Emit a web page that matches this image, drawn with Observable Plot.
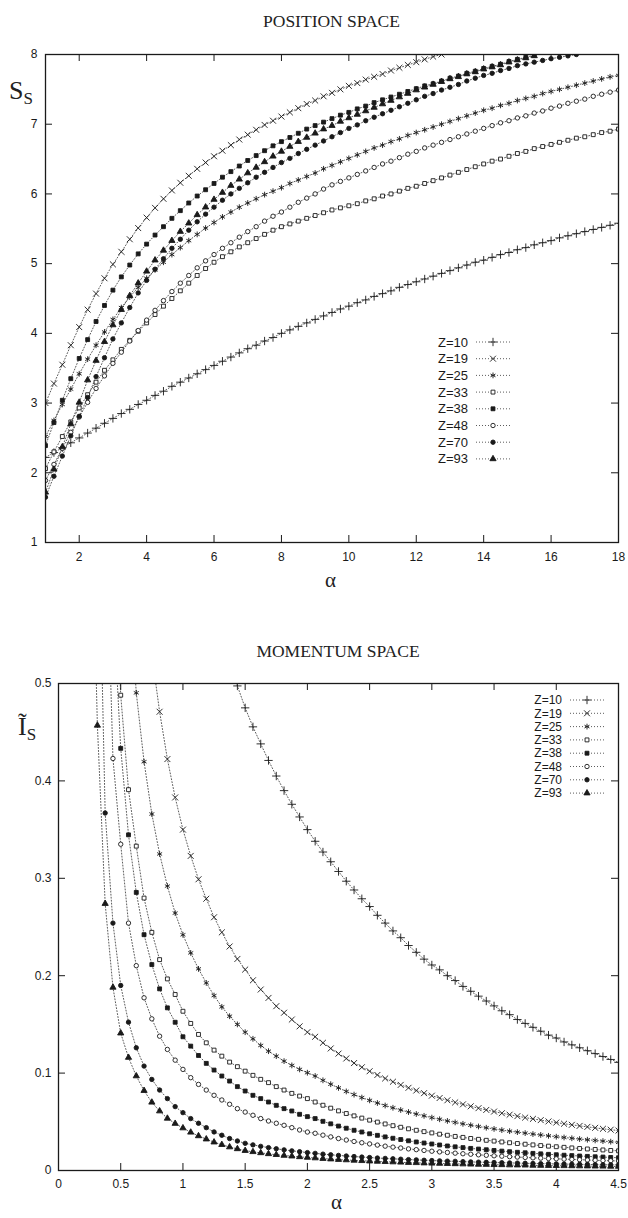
<!DOCTYPE html>
<html>
<head>
<meta charset="utf-8">
<script src="https://cdn.jsdelivr.net/npm/d3@7"></script>
<script src="https://cdn.jsdelivr.net/npm/@observablehq/plot@0.6"></script>
<style>
  html, body { margin: 0; padding: 0; background: #fff; }
  #root { position: relative; width: 628px; height: 1218px; background: #fff; overflow: hidden; }
  .abs { position: absolute; }
  .title { font-family: "Liberation Serif", "DejaVu Serif", serif; font-size: 17.5px; color: #222; text-align: center; }
  .greek { font-family: "Liberation Serif", "DejaVu Serif", serif; font-size: 21px; color: #222; }
  .ylab { font-family: "Liberation Serif", "DejaVu Serif", serif; font-size: 26px; color: #222; line-height: 1; white-space: nowrap; }
  .ylab sub { font-size: 17px; vertical-align: -5px; }
</style>
</head>
<body>
<div id="root">
  <div id="plotTop" class="abs" style="left:0;top:0"></div>
  <div id="plotBot" class="abs" style="left:0;top:600px"></div>
  <div class="abs title" style="left:44px;width:575px;top:11px">POSITION SPACE</div>
  <div class="abs title" style="left:58px;width:560px;top:641px">MOMENTUM SPACE</div>
  <div class="abs greek" style="left:325px;top:568px">α</div>
  <div class="abs greek" style="left:331px;top:1190px">α</div>
  <div class="abs ylab" style="left:9px;top:78px">S<sub>S</sub></div>
  <div class="abs ylab" style="left:18px;top:714px">Ĩ<sub>S</sub></div>
</div>
<script>
// ---------------- DATA: POSITION SPACE (S_S vs alpha) ----------------
const alphaPos = [1,1.25,1.5,1.75,2,2.25,2.5,2.75,3,3.25,3.5,3.75,4,4.25,4.5,4.75,5,5.25,5.5,5.75,6,6.25,6.5,6.75,7,7.25,7.5,7.75,8,8.25,8.5,8.75,9,9.25,9.5,9.75,10,10.25,10.5,10.75,11,11.25,11.5,11.75,12,12.25,12.5,12.75,13,13.25,13.5,13.75,14,14.25,14.5,14.75,15,15.25,15.5,15.75,16,16.25,16.5,16.75,17,17.25,17.5,17.75,18];

const posZ10 = [2.22,2.29,2.36,2.43,2.50,2.57,2.64,2.71,2.78,2.85,2.91,2.98,3.04,3.11,3.17,3.24,3.30,3.36,3.42,3.48,3.54,3.60,3.66,3.72,3.78,3.83,3.89,3.94,4.00,4.05,4.10,4.15,4.20,4.25,4.30,4.35,4.39,4.44,4.48,4.53,4.57,4.61,4.66,4.70,4.74,4.78,4.82,4.86,4.90,4.94,4.98,5.02,5.05,5.09,5.13,5.16,5.20,5.23,5.27,5.30,5.33,5.37,5.40,5.43,5.46,5.49,5.52,5.55,5.58];
const posZ19 = [3.00,3.28,3.55,3.83,4.09,4.34,4.57,4.79,4.99,5.17,5.35,5.51,5.66,5.80,5.93,6.05,6.16,6.26,6.36,6.45,6.54,6.62,6.70,6.78,6.85,6.92,6.99,7.05,7.11,7.17,7.23,7.29,7.34,7.40,7.45,7.50,7.55,7.59,7.64,7.68,7.72,7.77,7.81,7.85,7.89,7.93,7.97,8.00];
const posZ25 = [2.52,2.75,2.98,3.20,3.42,3.63,3.83,4.02,4.20,4.37,4.52,4.66,4.79,4.91,5.02,5.13,5.23,5.33,5.42,5.51,5.59,5.67,5.74,5.81,5.87,5.93,5.99,6.04,6.09,6.15,6.20,6.25,6.30,6.36,6.41,6.46,6.51,6.56,6.61,6.66,6.70,6.75,6.79,6.84,6.88,6.92,6.96,7.00,7.04,7.08,7.12,7.16,7.20,7.23,7.27,7.30,7.34,7.37,7.40,7.44,7.47,7.50,7.53,7.56,7.59,7.62,7.65,7.68,7.70];
const posZ33 = [2.06,2.30,2.52,2.73,2.93,3.12,3.30,3.47,3.62,3.77,3.90,4.03,4.15,4.27,4.39,4.50,4.61,4.72,4.83,4.93,5.02,5.10,5.17,5.24,5.30,5.36,5.42,5.48,5.53,5.57,5.61,5.65,5.69,5.73,5.77,5.80,5.83,5.86,5.90,5.93,5.97,6.00,6.04,6.08,6.11,6.15,6.19,6.23,6.27,6.31,6.35,6.39,6.43,6.47,6.50,6.54,6.58,6.61,6.65,6.68,6.71,6.74,6.77,6.80,6.82,6.85,6.88,6.90,6.93];
const posZ38 = [2.39,2.72,3.04,3.35,3.64,3.91,4.17,4.40,4.62,4.81,4.98,5.14,5.28,5.41,5.53,5.65,5.76,5.87,5.97,6.06,6.15,6.24,6.32,6.40,6.48,6.55,6.62,6.69,6.75,6.81,6.87,6.93,6.98,7.03,7.08,7.13,7.17,7.22,7.26,7.31,7.35,7.39,7.43,7.47,7.51,7.55,7.58,7.62,7.66,7.69,7.73,7.76,7.80,7.83,7.86,7.90,7.93,7.96,7.99];
const posZ48 = [1.89,2.12,2.35,2.58,2.80,3.01,3.21,3.39,3.57,3.73,3.89,4.04,4.19,4.33,4.47,4.60,4.72,4.83,4.94,5.04,5.13,5.22,5.30,5.38,5.46,5.53,5.61,5.68,5.74,5.81,5.88,5.94,6.00,6.07,6.13,6.18,6.23,6.28,6.33,6.38,6.43,6.47,6.52,6.57,6.61,6.66,6.70,6.74,6.78,6.82,6.86,6.90,6.94,6.98,7.02,7.05,7.09,7.12,7.16,7.19,7.23,7.26,7.30,7.33,7.36,7.40,7.43,7.46,7.49];
const posZ70 = [1.65,1.95,2.24,2.53,2.81,3.08,3.38,3.65,3.92,4.15,4.37,4.58,4.76,4.92,5.07,5.22,5.35,5.48,5.60,5.71,5.81,5.91,6.00,6.08,6.16,6.24,6.31,6.38,6.45,6.51,6.58,6.64,6.70,6.76,6.82,6.88,6.94,6.99,7.05,7.10,7.15,7.20,7.25,7.30,7.35,7.40,7.44,7.49,7.53,7.57,7.62,7.66,7.70,7.73,7.77,7.80,7.84,7.865,7.89,7.915,7.94,7.96,7.98,8.00];
const posZ93 = [1.72,2.05,2.37,2.70,3.01,3.33,3.61,3.88,4.12,4.34,4.54,4.72,4.89,5.05,5.19,5.33,5.46,5.58,5.70,5.81,5.92,6.02,6.12,6.21,6.30,6.38,6.46,6.54,6.61,6.68,6.75,6.81,6.87,6.93,6.98,7.04,7.09,7.14,7.19,7.24,7.29,7.34,7.39,7.44,7.49,7.53,7.57,7.61,7.65,7.68,7.72,7.75,7.79,7.82,7.85,7.89,7.92,7.95,7.98];

// ---------------- DATA: MOMENTUM SPACE (I_S vs alpha) ----------------
const alphaMom = [0.25,0.3125,0.375,0.4375,0.5,0.5625,0.625,0.6875,0.75,0.8125,0.875,0.9375,1,1.0625,1.125,1.1875,1.25,1.3125,1.375,1.4375,1.5,1.5625,1.625,1.6875,1.75,1.8125,1.875,1.9375,2,2.0625,2.125,2.1875,2.25,2.3125,2.375,2.4375,2.5,2.5625,2.625,2.6875,2.75,2.8125,2.875,2.9375,3,3.0625,3.125,3.1875,3.25,3.3125,3.375,3.4375,3.5,3.5625,3.625,3.6875,3.75,3.8125,3.875,3.9375,4,4.0625,4.125,4.1875,4.25,4.3125,4.375,4.4375,4.5];

const momZ10 = [null,null,null,null,null,null,null,null,null,null,null,null,null,null,null,null,null,null,0.522,0.4975,0.475,0.4555,0.438,0.421,0.405,0.390,0.376,0.363,0.350,0.338,0.327,0.317,0.307,0.297,0.288,0.279,0.271,0.262,0.254,0.246,0.239,0.231,0.224,0.217,0.211,0.206,0.200,0.195,0.189,0.184,0.179,0.174,0.169,0.164,0.160,0.155,0.151,0.147,0.143,0.139,0.136,0.132,0.129,0.126,0.123,0.120,0.117,0.114,0.111];
const momZ19 = [null,null,null,null,null,null,null,null,0.53,0.471,0.4224,0.383,0.350,0.323,0.299,0.279,0.260,0.2445,0.230,0.2172,0.2063,0.1953,0.1858,0.1772,0.1687,0.162,0.155,0.148,0.142,0.1373,0.1311,0.1253,0.120,0.115,0.1103,0.106,0.1019,0.0981,0.0945,0.0911,0.0879,0.0849,0.0821,0.0794,0.0768,0.0744,0.0721,0.0699,0.0679,0.0659,0.064,0.0622,0.0605,0.0588,0.0573,0.0558,0.0543,0.053,0.0517,0.0504,0.0492,0.048,0.0469,0.0458,0.0448,0.0438,0.0428,0.0419,0.041];
const momZ25 = [null,null,null,null,null,0.61,0.4904,0.4197,0.366,0.325,0.292,0.2643,0.242,0.2234,0.207,0.1926,0.1796,0.168,0.1584,0.150,0.142,0.1352,0.1284,0.1225,0.1174,0.1123,0.1079,0.1038,0.1004,0.097,0.0926,0.0886,0.0848,0.0812,0.0779,0.0749,0.072,0.0693,0.0667,0.0644,0.0621,0.060,0.058,0.0561,0.0543,0.0526,0.0509,0.0494,0.0479,0.0465,0.0452,0.0439,0.0427,0.0415,0.0404,0.0394,0.0384,0.0374,0.0365,0.0356,0.0347,0.0339,0.0331,0.0323,0.0316,0.0309,0.0302,0.0296,0.0289];
const momZ33 = [null,null,null,0.68,0.488,0.391,0.333,0.2797,0.2445,0.2165,0.1967,0.1807,0.1635,0.151,0.1397,0.1311,0.1236,0.1174,0.1113,0.1066,0.102,0.0977,0.0936,0.0902,0.0861,0.0826,0.0792,0.0764,0.0738,0.0703,0.067,0.064,0.0612,0.0585,0.0561,0.0538,0.0517,0.0497,0.0478,0.046,0.0444,0.0428,0.0413,0.0399,0.0386,0.0373,0.0362,0.035,0.034,0.0329,0.032,0.031,0.0302,0.0293,0.0285,0.0277,0.027,0.0263,0.0256,0.025,0.0244,0.0238,0.0232,0.0226,0.0221,0.0216,0.0211,0.0206,0.0202];
const momZ38 = [null,null,null,0.587,0.4334,0.3446,0.2855,0.2421,0.2114,0.1865,0.167,0.1522,0.1373,0.1277,0.1181,0.110,0.1031,0.097,0.0918,0.0861,0.0816,0.0772,0.0738,0.0703,0.0669,0.0635,0.0611,0.0577,0.0553,0.0533,0.0505,0.0479,0.0456,0.0434,0.0413,0.0395,0.0377,0.0361,0.0345,0.0331,0.0318,0.0305,0.0293,0.0282,0.0272,0.0262,0.0252,0.0243,0.0235,0.0227,0.022,0.0213,0.0206,0.0199,0.0193,0.0187,0.0182,0.0176,0.0171,0.0166,0.0162,0.0157,0.0153,0.0149,0.0145,0.0141,0.0138,0.0134,0.0131];
const momZ48 = [null,null,0.698,0.423,0.335,0.254,0.2103,0.1773,0.1557,0.1379,0.1243,0.1133,0.1038,0.0953,0.0884,0.0826,0.0772,0.0724,0.068,0.0635,0.060,0.0567,0.0533,0.0508,0.0485,0.0464,0.044,0.0416,0.0395,0.0382,0.0363,0.0345,0.0328,0.0313,0.0298,0.0285,0.0273,0.0261,0.025,0.024,0.0231,0.0222,0.0214,0.0206,0.0198,0.0191,0.0185,0.0178,0.0172,0.0167,0.0161,0.0156,0.0151,0.0147,0.0142,0.0138,0.0134,0.013,0.0127,0.0123,0.012,0.0117,0.0114,0.0111,0.0108,0.0105,0.0102,0.01,0.0098];
const momZ70 = [null,0.73,0.367,0.254,0.19,0.1523,0.126,0.1072,0.0935,0.0826,0.0738,0.0656,0.0594,0.0533,0.0485,0.044,0.0396,0.0362,0.0328,0.0303,0.0279,0.0263,0.0248,0.0235,0.0223,0.0212,0.0202,0.0193,0.0184,0.0176,0.0168,0.0161,0.0155,0.0149,0.0143,0.0138,0.0133,0.0128,0.0124,0.0120,0.0116,0.0112,0.0109,0.0105,0.0102,0.0099,0.0096,0.0094,0.0091,0.0088,0.0086,0.0084,0.0082,0.0080,0.0078,0.0076,0.0074,0.0072,0.0070,0.0069,0.0067,0.0066,0.0064,0.0063,0.0062,0.0060,0.0059,0.0058,0.0057];
const momZ93 = [0.773,0.457,0.274,0.188,0.141,0.116,0.097,0.082,0.070,0.061,0.0535,0.0482,0.0436,0.0392,0.0355,0.0322,0.0291,0.0265,0.0241,0.0222,0.0204,0.0192,0.0181,0.0171,0.0162,0.0154,0.0147,0.0140,0.0134,0.0128,0.0122,0.0117,0.0112,0.0108,0.0104,0.0100,0.0096,0.0093,0.0090,0.0087,0.0084,0.0081,0.0079,0.0076,0.0074,0.0072,0.0070,0.0068,0.0066,0.0064,0.0062,0.0061,0.0059,0.0058,0.0056,0.0055,0.0054,0.0052,0.0051,0.0050,0.0049,0.0048,0.0047,0.0046,0.0045,0.0044,0.0043,0.0042,0.0041];

// ---------------- LABELS / TICKS ----------------
const seriesNames = ["Z=10","Z=19","Z=25","Z=33","Z=38","Z=48","Z=70","Z=93"];
const posSeries = [posZ10,posZ19,posZ25,posZ33,posZ38,posZ48,posZ70,posZ93];
const momSeries = [momZ10,momZ19,momZ25,momZ33,momZ38,momZ48,momZ70,momZ93];
const seriesSymbols = ["plus","times","asterisk","square","square","circle","circle","triangle"];
const seriesFilled  = [false,false,false,false,true,false,true,true];

const posXTickLabels = [2,4,6,8,10,12,14,16,18];
const posYTickLabels = [1,2,3,4,5,6,7,8];
const momXTickLabels = [0,0.5,1,1.5,2,2.5,3,3.5,4,4.5];
const momYTickLabels = [0,0.1,0.2,0.3,0.4,0.5];

// ---------------- DRAWING ----------------
const INK = "#1a1a1a";
const LINE = "#4a4a4a";
const TICK = 7;

function rowsFor(alpha, vals) {
  return vals.map((v, i) => ({a: alpha[i], v})).filter(d => d.v != null);
}
function symRadius(sym) {
  if (sym === "plus" || sym === "times") return 2.8;
  if (sym === "asterisk") return 2.7;
  if (sym === "triangle") return 2.3;
  if (sym === "square") return 2.2;
  return 2.2;
}
function isStrokeOnly(sym) { return sym === "plus" || sym === "times" || sym === "asterisk"; }

function seriesMarks(alpha, seriesArr) {
  const marks = [];
  seriesArr.forEach((vals) => {
    marks.push(Plot.line(rowsFor(alpha, vals), {x: "a", y: "v", stroke: LINE, strokeWidth: 0.9, strokeDasharray: "1,2", clip: true}));
  });
  seriesArr.forEach((vals, k) => {
    const sym = seriesSymbols[k];
    marks.push(Plot.dot(rowsFor(alpha, vals), {
      x: "a", y: "v", symbol: sym, r: symRadius(sym),
      fill: seriesFilled[k] ? INK : (isStrokeOnly(sym) ? "none" : "white"),
      stroke: INK, strokeWidth: 0.9, clip: true
    }));
  });
  return marks;
}

function frameTicks(xTicks, yTicks, innerW, innerH) {
  return [
    Plot.ruleX(xTicks, {x: d => d, insetTop: innerH - TICK, stroke: INK, strokeWidth: 1}),
    Plot.ruleX(xTicks, {x: d => d, insetBottom: innerH - TICK, stroke: INK, strokeWidth: 1}),
    Plot.ruleY(yTicks, {y: d => d, insetRight: innerW - TICK, stroke: INK, strokeWidth: 1}),
    Plot.ruleY(yTicks, {y: d => d, insetLeft: innerW - TICK, stroke: INK, strokeWidth: 1})
  ];
}

function addLegend(svg, x0, y0, step, fontSize) {
  const g = d3.select(svg).append("g")
    .attr("font-family", "Liberation Sans, Arial, sans-serif")
    .attr("font-size", fontSize);
  const symMap = {plus: d3.symbolPlus, times: d3.symbolTimes, asterisk: d3.symbolAsterisk,
                  square: d3.symbolSquare, circle: d3.symbolCircle, triangle: d3.symbolTriangle};
  seriesNames.forEach((name, k) => {
    const y = y0 + k * step;
    g.append("text").attr("x", x0).attr("y", y).attr("dy", "0.35em")
      .attr("text-anchor", "end").attr("fill", INK).text(name);
    g.append("line").attr("x1", x0 + 8).attr("x2", x0 + 42).attr("y1", y).attr("y2", y)
      .attr("stroke", LINE).attr("stroke-width", 0.9).attr("stroke-dasharray", "1,2");
    const sym = seriesSymbols[k];
    const r = symRadius(sym);
    g.append("path").attr("transform", `translate(${x0 + 25},${y})`)
      .attr("d", d3.symbol(symMap[sym], Math.PI * r * r)())
      .attr("fill", seriesFilled[k] ? INK : (isStrokeOnly(sym) ? "none" : "white"))
      .attr("stroke", INK).attr("stroke-width", 0.9);
  });
}

// --- Top chart ---
{
  const W = 628, H = 600, mL = 45, mR = 10, mT = 54, mB = 58;
  const innerW = W - mL - mR, innerH = H - mT - mB;
  const chart = Plot.plot({
    width: W, height: H, marginLeft: mL, marginRight: mR, marginTop: mT, marginBottom: mB,
    style: {fontFamily: "Liberation Sans, Arial, sans-serif", fontSize: "12px", background: "white", color: INK},
    x: {domain: [1, 18]},
    y: {domain: [1, 8]},
    marks: [
      ...seriesMarks(alphaPos, posSeries),
      ...frameTicks([2,4,6,8,10,12,14,16], [2,3,4,5,6,7], innerW, innerH),
      Plot.frame({stroke: INK, strokeWidth: 1.3}),
      Plot.axisX({ticks: posXTickLabels, anchor: "bottom", tickSize: 0, tickPadding: 10, tickFormat: d => String(d), label: null}),
      Plot.axisY({ticks: posYTickLabels, anchor: "left", tickSize: 0, tickPadding: 8, tickFormat: d => String(d), label: null})
    ]
  });
  document.getElementById("plotTop").appendChild(chart);
  addLegend(chart, 468, 342, 16.7, 13);
}

// --- Bottom chart ---
{
  const W = 628, H = 618, mL = 58, mR = 10, mT = 83, mB = 48;
  const innerW = W - mL - mR, innerH = H - mT - mB;
  const chart = Plot.plot({
    width: W, height: H, marginLeft: mL, marginRight: mR, marginTop: mT, marginBottom: mB,
    style: {fontFamily: "Liberation Sans, Arial, sans-serif", fontSize: "12px", background: "white", color: INK},
    x: {domain: [0, 4.5]},
    y: {domain: [0, 0.5]},
    marks: [
      ...seriesMarks(alphaMom, momSeries),
      ...frameTicks([0.5,1,1.5,2,2.5,3,3.5,4], [0.1,0.2,0.3,0.4], innerW, innerH),
      Plot.frame({stroke: INK, strokeWidth: 1.3}),
      Plot.axisX({ticks: momXTickLabels, anchor: "bottom", tickSize: 0, tickPadding: 9, tickFormat: d => String(d), label: null}),
      Plot.axisY({ticks: momYTickLabels, anchor: "left", tickSize: 0, tickPadding: 7, tickFormat: d => String(d), label: null})
    ]
  });
  document.getElementById("plotBot").appendChild(chart);
  addLegend(chart, 562, 100, 13.3, 12);
}
</script>
</body>
</html>
